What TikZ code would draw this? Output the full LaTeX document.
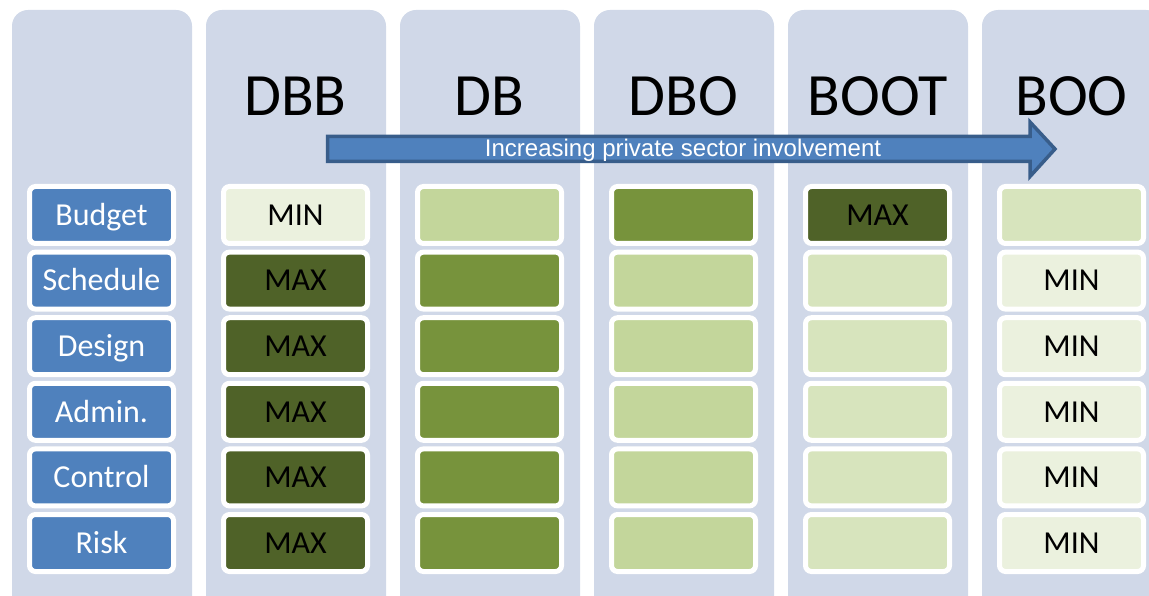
\documentclass[tikz,border=0pt]{standalone}
\usepackage{fontspec}
\setmainfont{Carlito}
\newfontfamily\bannerfont{Liberation Sans}
\usetikzlibrary{positioning}
\definecolor{panelbg}{HTML}{D0D8E8}
\definecolor{rowblue}{HTML}{4F81BD}
\definecolor{rimblue}{HTML}{385D8A}
\definecolor{gmax}{HTML}{4F6228}
\definecolor{gmid}{HTML}{77933C}
\definecolor{glight}{HTML}{C3D69B}
\definecolor{gpale}{HTML}{D7E4BD}
\definecolor{gmin}{HTML}{EBF1DE}
\tikzset{
	panel/.style={fill=panelbg, rounded corners=16pt},
	cell/.style={draw=white, line width=5pt, rounded corners=6pt,
		minimum width=144pt, minimum height=57pt, inner sep=0pt,
		text height=20.6pt, text depth=0pt,
		font=\fontsize{32}{34}\selectfont},
	rowlabel/.style={cell, fill=rowblue, text=white},
	heading/.style={inner sep=0pt, text height=38.6pt, text depth=0pt,
		font=\fontsize{60}{62}\selectfont},
	banner/.style={fill=rowblue, draw=rimblue, line width=3.5pt, line join=miter},
	banner text/.style={inner sep=0pt, text=white, text height=17.2pt, text depth=0pt,
		font=\bannerfont\fontsize{24}{26}\selectfont}
}

\begin{document}
\begin{tikzpicture}[x=1pt, y=-1pt]
	\useasboundingbox (0,0) rectangle (1149,596);
	\clip (0,0) rectangle (1149,596);
	% background panels
	\foreach \i in {0,...,5}
		\fill[panel] (12+194*\i,10) rectangle (192+194*\i,620);
	% row labels
	\foreach \j/\lbl in {0/Budget,1/Schedule,2/Design,3/Admin.,4/Control,5/Risk}
		\node[rowlabel] (r\j) at (101.5,215+65.6*\j) {\lbl};
	% delivery methods
	\foreach \i/\name/\ca/\cb/\ta/\tb in {1/DBB/gmin/gmax/MIN/MAX, 2/DB/glight/gmid//,
			3/DBO/gmid/glight//, 4/BOOT/gmax/gpale/MAX/, 5/BOO/gpale/gmin//MIN} {
		\node[heading] (h\i) at (101.5+194*\i,96) {\name};
		\node[cell, fill=\ca] (c\i-0) at (101.5+194*\i,215) {\ta};
		\foreach \j in {1,...,5}
			\node[cell, fill=\cb] (c\i-\j) at (101.5+194*\i,215+65.6*\j) {\tb};
	}
	% arrow
	\draw[banner] (327.5,136.5) -- (1030,136.5) -- (1030,122) -- (1055,149)
		-- (1030,176.5) -- (1030,161.5) -- (327.5,161.5) -- cycle;
	\node[banner text] (trend) at (683,148) {Increasing private sector involvement};
\end{tikzpicture}
\end{document}
